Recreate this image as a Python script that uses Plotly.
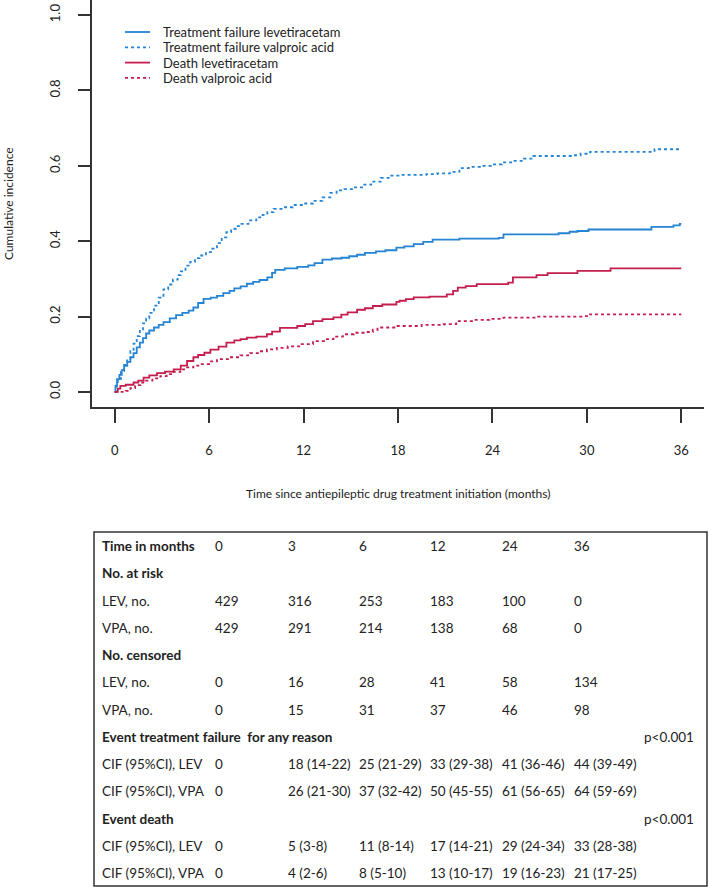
import plotly.graph_objects as go

# Cumulative incidence curves (months, cumulative incidence)
fail_lev_t = [0, 0.05, 0.15, 0.3, 0.45, 0.6, 0.8, 1.0, 1.2, 1.4, 1.6, 1.8, 2.0, 2.2, 2.5, 2.8, 3.1, 3.5,
              3.9, 4.3, 4.7, 5.0, 5.3, 5.65, 6.1, 6.5, 6.9, 7.3, 7.6, 8.0, 8.4, 8.8, 9.2, 9.7, 10.0, 10.2,
              10.8, 11.6, 12.3, 12.7, 13.2, 13.8, 14.4, 14.9, 15.4, 15.9, 16.6, 17.2, 17.9, 18.4, 19.0,
              19.6, 20.2, 21.9, 24.4, 24.7, 28.2, 28.9, 29.4, 30.1, 34.1, 35.5, 35.9, 36]
fail_lev_v = [0, 0.015, 0.034, 0.045, 0.058, 0.069, 0.080, 0.092, 0.103, 0.118, 0.131, 0.143, 0.155,
              0.163, 0.171, 0.178, 0.185, 0.195, 0.204, 0.210, 0.216, 0.224, 0.236, 0.247, 0.250, 0.255,
              0.262, 0.268, 0.275, 0.280, 0.287, 0.292, 0.297, 0.304, 0.316, 0.324, 0.328, 0.332, 0.336,
              0.342, 0.351, 0.354, 0.356, 0.360, 0.364, 0.369, 0.373, 0.376, 0.383, 0.386, 0.392, 0.398,
              0.404, 0.407, 0.409, 0.418, 0.421, 0.425, 0.427, 0.431, 0.438, 0.442, 0.446, 0.446]

fail_vpa_t = [0, 0.1, 0.2, 0.4, 0.6, 0.8, 1.0, 1.2, 1.4, 1.6, 1.8, 2.0, 2.2, 2.5, 2.8, 3.1, 3.4, 3.7, 4.0,
              4.2, 4.5, 4.8, 5.1, 5.4, 5.8, 6.2, 6.5, 6.8, 7.1, 7.4, 7.7, 8.0, 8.5, 9.0, 9.4, 9.7, 10.1,
              10.7, 11.3, 12.0, 12.6, 13.2, 13.7, 14.1, 14.6, 15.2, 15.8, 16.3, 16.9, 17.5, 18.2, 19.8,
              20.5, 21.3, 21.9, 22.5, 23.2, 23.9, 24.6, 25.3, 26.0, 26.6, 29.1, 29.6, 30.2, 34.3, 36]
fail_vpa_v = [0, 0.020, 0.035, 0.055, 0.072, 0.088, 0.108, 0.128, 0.148, 0.166, 0.182, 0.195, 0.210,
              0.229, 0.250, 0.272, 0.285, 0.298, 0.310, 0.320, 0.335, 0.345, 0.355, 0.362, 0.371, 0.380,
              0.395, 0.410, 0.424, 0.433, 0.440, 0.446, 0.455, 0.463, 0.470, 0.477, 0.486, 0.490, 0.496,
              0.500, 0.507, 0.516, 0.528, 0.535, 0.538, 0.543, 0.550, 0.558, 0.568, 0.574, 0.576, 0.578,
              0.580, 0.584, 0.594, 0.597, 0.600, 0.604, 0.609, 0.613, 0.619, 0.626, 0.628, 0.632, 0.637,
              0.644, 0.644]

death_lev_t = [0, 0.2, 0.36, 0.7, 1.2, 1.5, 1.84, 2.2, 2.69, 3.2, 3.75, 4.2, 4.6, 5.0, 5.3, 5.7, 6.08, 6.6,
               7.1, 7.6, 8.0, 8.4, 9.0, 9.67, 10.0, 10.5, 11.6, 12.1, 12.6, 13.2, 13.9, 14.4, 14.8, 15.4,
               15.9, 16.4, 17.0, 17.9, 18.1, 18.5, 19.0, 20.0, 21.1, 21.5, 21.8, 22.3, 23.0, 25.0, 25.3,
               26.8, 27.5, 29.4, 31.5, 36]
death_lev_v = [0, 0.009, 0.016, 0.019, 0.025, 0.030, 0.038, 0.044, 0.050, 0.054, 0.060, 0.070, 0.082,
               0.092, 0.098, 0.104, 0.112, 0.120, 0.131, 0.137, 0.140, 0.144, 0.147, 0.153, 0.160, 0.170,
               0.175, 0.180, 0.188, 0.193, 0.198, 0.205, 0.211, 0.218, 0.222, 0.228, 0.232, 0.239, 0.242,
               0.246, 0.251, 0.253, 0.259, 0.268, 0.277, 0.281, 0.286, 0.290, 0.304, 0.310, 0.315, 0.321,
               0.328, 0.328]

death_vpa_t = [0, 0.7, 1.0, 1.3, 1.63, 2.0, 2.4, 2.9, 3.3, 3.7, 4.17, 4.6, 5.0, 5.44, 6.0, 6.5, 7.2, 7.98,
               8.6, 9.1, 9.67, 10.3, 11.0, 11.8, 12.6, 13.3, 13.9, 14.5, 15.2, 16.0, 16.4, 16.7, 17.9, 19.5,
               20.9, 21.7, 22.8, 23.8, 24.7, 26.8, 29.8, 30.2, 36]
death_vpa_v = [0, 0.003, 0.010, 0.018, 0.025, 0.030, 0.036, 0.042, 0.047, 0.053, 0.060, 0.065, 0.070,
               0.074, 0.081, 0.087, 0.092, 0.097, 0.103, 0.108, 0.113, 0.117, 0.121, 0.127, 0.135, 0.140,
               0.147, 0.153, 0.157, 0.159, 0.165, 0.171, 0.175, 0.178, 0.180, 0.188, 0.191, 0.194, 0.197,
               0.200, 0.201, 0.206, 0.206]

x_ticks = [0, 6, 12, 18, 24, 30, 36]
y_ticks = [0.0, 0.2, 0.4, 0.6, 0.8, 1.0]

# Table below the plot
table_months = [0, 3, 6, 12, 24, 36]
at_risk_lev = [429, 316, 253, 183, 100, 0]
at_risk_vpa = [429, 291, 214, 138, 68, 0]
censored_lev = [0, 16, 28, 41, 58, 134]
censored_vpa = [0, 15, 31, 37, 46, 98]
cif_fail_lev = ["0", "18 (14-22)", "25 (21-29)", "33 (29-38)", "41 (36-46)", "44 (39-49)"]
cif_fail_vpa = ["0", "26 (21-30)", "37 (32-42)", "50 (45-55)", "61 (56-65)", "64 (59-69)"]
cif_death_lev = ["0", "5 (3-8)", "11 (8-14)", "17 (14-21)", "29 (24-34)", "33 (28-38)"]
cif_death_vpa = ["0", "4 (2-6)", "8 (5-10)", "13 (10-17)", "19 (16-23)", "21 (17-25)"]
p_fail = "p<0.001"
p_death = "p<0.001"

W, H = 709, 887
BLUE = "#2584d4"
RED = "#c41e4e"
TXT = "#222222"
FONT = "Lato"


def px(x):
    return x / W


def py(y):
    return 1 - y / H


fig = go.Figure()

curves = [
    ("Treatment failure levetiracetam", fail_lev_t, fail_lev_v, BLUE, "solid"),
    ("Treatment failure valproic acid", fail_vpa_t, fail_vpa_v, BLUE, "dot"),
    ("Death levetiracetam", death_lev_t, death_lev_v, RED, "solid"),
    ("Death valproic acid", death_vpa_t, death_vpa_v, RED, "dot"),
]
for name, t, v, col, dash in curves:
    fig.add_trace(go.Scatter(x=t, y=v, mode="lines", name=name, line_shape="hv",
                             line=dict(color=col, width=1.8, dash=dash), showlegend=False))

# legend drawn by hand, the R-style rows are tighter than plotly's own legend
for i, (name, t, v, col, dash) in enumerate(curves):
    ly = py(32 + i * 15.3)
    fig.add_shape(type="line", xref="paper", yref="paper", x0=px(125), x1=px(150), y0=ly, y1=ly,
                  line=dict(color=col, width=1.8, dash=dash))
    fig.add_annotation(x=px(161), y=ly, xref="paper", yref="paper", xanchor="left", yanchor="middle",
                       text=name, showarrow=False, font=dict(family=FONT, size=13, color=TXT))

axis_common = dict(showline=True, linecolor="#333333", linewidth=1.5, ticks="outside",
                   tickcolor="#333333", tickwidth=1.5, showgrid=False, zeroline=False,
                   tickfont=dict(family=FONT, size=13, color=TXT))

fig.update_layout(
    width=W, height=H, autosize=False,
    margin=dict(l=0, r=0, t=0, b=0),
    paper_bgcolor="white", plot_bgcolor="white",
    font=dict(family=FONT, color=TXT),
    xaxis=dict(domain=[px(92), px(704)], range=[-1.44, 37.44], tickvals=x_ticks,
               ticklen=14, ticklabelstandoff=17, **axis_common),
    yaxis=dict(domain=[py(407), 1], range=[-0.04, 1.04], tickvals=y_ticks, tickformat=".1f",
               tickangle=-90, ticklen=12, ticklabelstandoff=13, **axis_common),
)

# Axis titles
fig.add_annotation(x=px(8), y=py(204), xref="paper", yref="paper", text="Cumulative incidence",
                   textangle=-90, xanchor="center", yanchor="middle", showarrow=False,
                   font=dict(family=FONT, size=12, color=TXT))
fig.add_annotation(x=px(398), y=py(493), xref="paper", yref="paper",
                   text="Time since antiepileptic drug treatment initiation (months)",
                   showarrow=False, font=dict(family=FONT, size=12, color=TXT))

# Table box
fig.add_shape(type="rect", xref="paper", yref="paper", x0=px(94), x1=px(707), y0=py(886), y1=py(532),
              line=dict(color="#333333", width=1.5))

table_rows = [
    ("Time in months", [str(m) for m in table_months], True, ""),
    ("No. at risk", None, True, ""),
    ("LEV, no.", [str(n) for n in at_risk_lev], False, ""),
    ("VPA, no.", [str(n) for n in at_risk_vpa], False, ""),
    ("No. censored", None, True, ""),
    ("LEV, no.", [str(n) for n in censored_lev], False, ""),
    ("VPA, no.", [str(n) for n in censored_vpa], False, ""),
    ("Event treatment failure\u00a0 for any reason", None, True, p_fail),
    ("CIF (95%CI), LEV", cif_fail_lev, False, ""),
    ("CIF (95%CI), VPA", cif_fail_vpa, False, ""),
    ("Event death", None, True, p_death),
    ("CIF (95%CI), LEV", cif_death_lev, False, ""),
    ("CIF (95%CI), VPA", cif_death_vpa, False, ""),
]
col_x = [213, 286, 357, 428, 500, 572]
row_y0, row_step = 546, 27.27
tfont = dict(family=FONT, size=13.5, color=TXT)

for i, (label, cells, bold, pval) in enumerate(table_rows):
    y = py(row_y0 + i * row_step)
    fig.add_annotation(x=px(100), y=y, xref="paper", yref="paper", xanchor="left", yanchor="middle",
                       text="<b>%s</b>" % label if bold else label, showarrow=False, font=tfont)
    if cells:
        # the header row is bold only in its label
        for cx, val in zip(col_x, cells):
            fig.add_annotation(x=px(cx), y=y, xref="paper", yref="paper", xanchor="left",
                               yanchor="middle", text=val, showarrow=False, font=tfont)
    if pval:
        fig.add_annotation(x=px(642), y=y, xref="paper", yref="paper", xanchor="left",
                           yanchor="middle", text=pval, showarrow=False, font=tfont)

# the default page keeps an 8px body margin; drop it so the figure fills the window
fig.write_html("out.html", config={"displayModeBar": False},
               post_script="document.body.style.margin='0';")
